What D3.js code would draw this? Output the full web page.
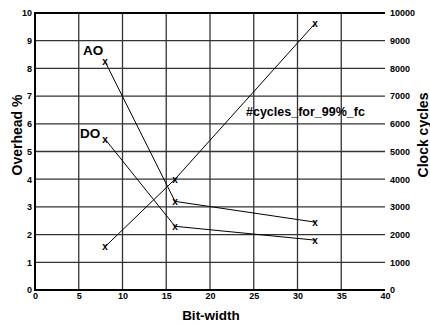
<!DOCTYPE html>
<html lang="en">
    <head>
        <meta charset="utf-8">
        <title>Overhead vs bit-width</title>
        <script type="text/javascript" src="https://cdn.jsdelivr.net/npm/d3@7"></script>
        <style type="text/css">
            body { margin: 0; background: #fff; }
            text { font-family: "Liberation Sans", Arial, sans-serif; font-weight: bold; }
        </style>
    </head>
    <body>
        <script type="text/javascript">
            // Data
            var bitWidths = [8, 16, 32];
            var aoOverhead = [8.25, 3.2, 2.45];
            var doOverhead = [5.45, 2.3, 1.8];
            var cycles = [1560, 4000, 9620];
            var xTicks = [0, 5, 10, 15, 20, 25, 30, 35, 40];
            var leftTicks = [0, 1, 2, 3, 4, 5, 6, 7, 8, 9, 10];
            var rightTicks = [0, 1000, 2000, 3000, 4000, 5000, 6000, 7000, 8000, 9000, 10000];

            var w = 430;
            var h = 324;
            var plotLeft = 35, plotRight = 385, plotTop = 13, plotBottom = 290;

            var svg = d3.select("body")
                    .append("svg")
                    .attr("width", w)
                    .attr("height", h);

            var xScale = d3.scaleLinear().domain([0, 40]).range([plotLeft, plotRight]);
            var yScale = d3.scaleLinear().domain([0, 10]).range([plotBottom, plotTop]);
            var y2Scale = d3.scaleLinear().domain([0, 10000]).range([plotBottom, plotTop]);

            // grid
            svg.append("g").selectAll("line")
                .data(leftTicks.slice(1, -1))
                .enter().append("line")
                .attr("x1", plotLeft).attr("x2", plotRight)
                .attr("y1", function(d) { return yScale(d); })
                .attr("y2", function(d) { return yScale(d); })
                .attr("stroke", "#333").attr("stroke-width", 1.3);
            svg.append("g").selectAll("line")
                .data(xTicks.slice(1, -1))
                .enter().append("line")
                .attr("y1", plotTop).attr("y2", plotBottom)
                .attr("x1", function(d) { return xScale(d); })
                .attr("x2", function(d) { return xScale(d); })
                .attr("stroke", "#333").attr("stroke-width", 1.3);

            // frame (left, top, bottom)
            svg.append("path")
                .attr("d", "M" + plotRight + "," + plotTop + "H" + plotLeft + "V" + plotBottom + "H" + plotRight)
                .attr("fill", "none").attr("stroke", "#000").attr("stroke-width", 2);

            // axes (labels only, grid does the rest)
            var xAxis = d3.axisBottom(xScale).tickValues(xTicks).tickSize(0).tickPadding(3);
            var yAxis = d3.axisLeft(yScale).tickValues(leftTicks).tickSize(0).tickPadding(3);
            var y2Axis = d3.axisRight(y2Scale).tickValues(rightTicks).tickSize(0).tickPadding(5)
                            .tickFormat(d3.format("d"));

            [svg.append("g").attr("transform", "translate(0," + plotBottom + ")").call(xAxis),
             svg.append("g").attr("transform", "translate(" + plotLeft + ",0)").call(yAxis),
             svg.append("g").attr("transform", "translate(" + plotRight + ",0)").call(y2Axis)]
                .forEach(function(g) {
                    g.select(".domain").remove();
                    g.attr("font-family", "Liberation Sans, Arial, sans-serif").attr("font-weight", "bold");
                    g.selectAll("text").attr("font-size", 9).attr("fill", "#000");
                });

            // series
            var line = d3.line()
                .x(function(d) { return xScale(d[0]); })
                .y(function(d) { return d[1]; });

            function drawSeries(vals, scale) {
                var pts = bitWidths.map(function(b, i) { return [b, scale(vals[i])]; });
                svg.append("path")
                    .attr("d", line(pts))
                    .attr("fill", "none").attr("stroke", "#000").attr("stroke-width", 1);
                svg.append("g").selectAll("text")
                    .data(pts).enter().append("text")
                    .attr("x", function(d) { return xScale(d[0]); })
                    .attr("y", function(d) { return d[1] + 3.5; })
                    .attr("text-anchor", "middle")
                    .attr("font-size", 10)
                    .text("x");
            }
            drawSeries(aoOverhead, yScale);
            drawSeries(doOverhead, yScale);
            drawSeries(cycles, y2Scale);

            // series labels
            svg.append("text").attr("x", 83).attr("y", 55).attr("font-size", 13.5).text("AO");
            svg.append("text").attr("x", 80).attr("y", 138).attr("font-size", 13.5).text("DO");
            svg.append("text").attr("x", 246).attr("y", 116).attr("font-size", 12.5).text("#cycles_for_99%_fc");

            // axis titles
            svg.append("text").attr("x", 211).attr("y", 320)
                .attr("text-anchor", "middle").attr("font-size", 13.5).text("Bit-width");
            svg.append("text")
                .attr("transform", "translate(22,135) rotate(-90)")
                .attr("text-anchor", "middle").attr("font-size", 14).text("Overhead %");
            svg.append("text")
                .attr("transform", "translate(428,135) rotate(-90)")
                .attr("text-anchor", "middle").attr("font-size", 14).text("Clock cycles");
        </script>
    </body>
</html>
